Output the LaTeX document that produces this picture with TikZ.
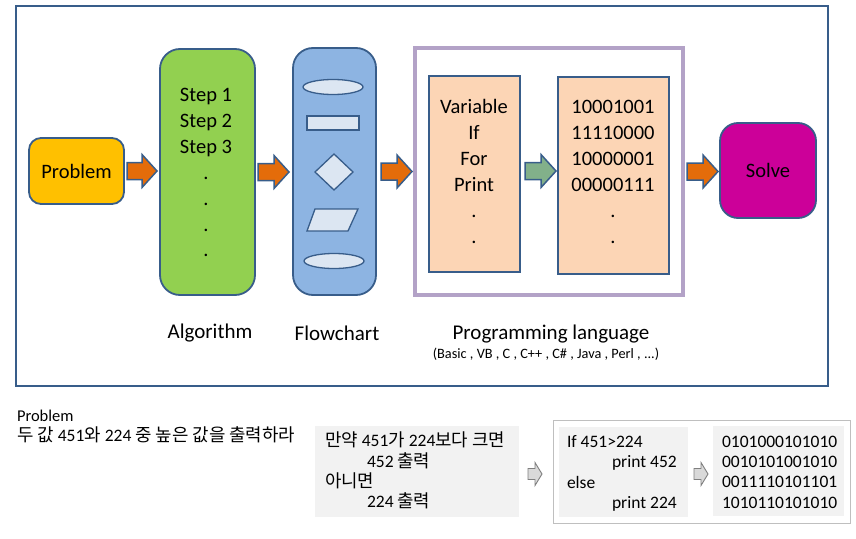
\documentclass[tikz,border=0pt]{standalone}
\usepackage{fontspec}
\setmainfont{Carlito}
\newfontfamily\kr{Noto Sans CJK KR}[Scale=1.02]
\newcommand\K[1]{{\kr #1}}
\usetikzlibrary{calc}
\definecolor{edgeblue}{HTML}{385D8A}
\definecolor{probyellow}{HTML}{FFC000}
\definecolor{arrorange}{HTML}{E46C0A}
\definecolor{alggreen}{HTML}{92D050}
\definecolor{flowblue}{HTML}{8DB4E2}
\definecolor{shapefill}{HTML}{DCE6F2}
\definecolor{purpleframe}{HTML}{B3A2C7}
\definecolor{peach}{HTML}{FCD5B5}
\definecolor{solvemag}{HTML}{CC0099}
\definecolor{arrgreen}{HTML}{82B08A}
\definecolor{panelgray}{HTML}{F2F2F2}
\definecolor{framegray}{HTML}{BFBFBF}
\definecolor{arrgray}{HTML}{D9D9D9}
\definecolor{arredge}{HTML}{7F7F7F}
\newcommand\blockarr[7]{% style, fill, from, to, shaft half, head half, head length
  \draw[#1, fill=#2] let \p1=(#3), \p2=(#4) in
    ({\x1},{\y1+#5}) -- ({\x2-#7},{\y1+#5}) -- ({\x2-#7},{\y1+#6}) --
    ({\x2},{\y1}) -- ({\x2-#7},{\y1-#6}) -- ({\x2-#7},{\y1-#5}) --
    ({\x1},{\y1-#5}) -- cycle;}
\tikzset{
  every node/.style={inner sep=0pt, outer sep=0pt},
  bx/.style={draw=edgeblue, line width=1.8pt},
  rbox/.style={bx, rounded corners=#1},
  barrow/.style={draw=edgeblue, line width=1.5pt, line join=miter},
  garrow/.style={draw=arredge, line width=0.9pt, line join=miter},
  shp/.style={draw=edgeblue, line width=1.3pt, fill=shapefill},
  bigtxt/.style={font=\fontsize{20.5}{24}\selectfont},
  captxt/.style={font=\fontsize{21}{24}\selectfont},
  smalltxt/.style={font=\fontsize{17.5}{20}\selectfont},
}
\begin{document}
\begin{tikzpicture}[x=1pt,y=-1pt]
\useasboundingbox (0,0) rectangle (856,538);
% outer frame
\node[draw=edgeblue, line width=2.5pt, minimum width=812, minimum height=380] (frame) at (422,196) {};
% main boxes
\node[rbox=12pt, fill=probyellow, minimum width=95, minimum height=66, bigtxt] (prob) at (76.5,171) {Problem};
\node[rbox=20pt, fill=alggreen, minimum width=95, minimum height=246] (alg) at (207.5,172) {};
\node[rbox=20pt, fill=flowblue, minimum width=83, minimum height=247] (flow) at (334.5,171.5) {};
\node[draw=purpleframe, line width=3.5pt, minimum width=268, minimum height=247] (lang) at (549,171.5) {};
\node[bx, fill=peach, minimum width=91, minimum height=196] (var) at (474.5,174) {};
\node[bx, fill=peach, minimum width=111, minimum height=197] (bin) at (613.5,175.5) {};
\node[rbox=18pt, fill=solvemag, minimum width=96, minimum height=95, bigtxt] (solve) at (768,170.5) {Solve};
% algorithm text
\foreach \t [count=\i from 0] in {Step 1,Step 2,Step 3,.,.,.,.}
  \node[bigtxt, anchor=base] (alg\i) at (206,{101.5+25.9*\i}) {\t};
% language text
\foreach \t [count=\i from 0] in {Variable,If,For,Print,.,.}
  \node[bigtxt, anchor=base] (var\i) at (474,{113.5+26*\i}) {\t};
\foreach \t [count=\i from 0] in {10001001,11110000,10000001,00000111,.,.}
  \node[bigtxt, anchor=base] (bin\i) at (613,{113.5+26*\i}) {\t};
% flowchart symbols
\draw[shp] (333,87) ellipse [x radius=30, y radius=7.5];
\draw[shp] (307,116) rectangle (359,130);
\draw[shp] (334,154) -- (353,172) -- (334,190) -- (315,172) -- cycle;
\draw[shp] (315,209) -- (358,209) -- (348,231) -- (307,231) -- cycle;
\draw[shp] (334,261) ellipse [x radius=30, y radius=7.5];
% block arrows
\coordinate (a1s) at ($(prob.east)+(3,0)$);  \coordinate (a1e) at ($(alg.west)+(-3,0)$);
\coordinate (a2s) at ($(alg.east)+(3,0)$);   \coordinate (a2e) at ($(flow.west)+(-4,0)$);
\coordinate (a3s) at ($(flow.east)+(5,0)$);  \coordinate (a3e) at ($(lang.west)+(-3,0)$);
\coordinate (a4s) at ($(var.east)+(5,-3)$);  \coordinate (a4e) at ($(bin.west)+(-2,-3)$);
\coordinate (a5s) at ($(lang.east)+(4,0)$);  \coordinate (a5e) at ($(solve.west)+(-2,0)$);
\blockarr{barrow}{arrorange}{a1s}{a1e}{8.5pt}{16.5pt}{15pt}
\blockarr{barrow}{arrorange}{a2s}{a2e}{8.5pt}{16.5pt}{15pt}
\blockarr{barrow}{arrorange}{a3s}{a3e}{8.5pt}{16.5pt}{15pt}
\blockarr{barrow}{arrgreen}{a4s}{a4e}{8.5pt}{16.5pt}{15pt}
\blockarr{barrow}{arrorange}{a5s}{a5e}{8.5pt}{16.5pt}{15pt}
% captions
\node[captxt] (capalg) at (210,333) {Algorithm};
\node[captxt] (capflow) at (337,333) {Flowchart};
\node[captxt] (caplang) at (551,334) {Programming language};
\node[font=\fontsize{14.3}{16}\selectfont] (capsub) at (546,354) {(Basic , VB , C , C++ , C\# , Java , Perl , ...)};
% bottom part
\node[anchor=base west, font=\fontsize{16.5}{19}\selectfont] (ptitle) at (17,421.5) {Problem};
\node[anchor=base west, smalltxt] (pkr) at (17,441) {\K{두 값} 451\K{와} 224 \K{중 높은 값을 출력하라}};
\node[fill=panelgray, minimum width=204, minimum height=91] (pseudo) at (417,471.5) {};
\node[draw=framegray, line width=1pt, minimum width=297, minimum height=103] (codeframe) at (701.5,471.5) {};
\node[fill=panelgray, minimum width=129, minimum height=90] (code) at (623.5,472) {};
\node[fill=panelgray, minimum width=131, minimum height=90] (mach) at (778.5,471) {};
\node[anchor=base west, smalltxt] (ps1) at (325,446) {\K{만약} 451\K{가} 224\K{보다 크면}};
\node[anchor=base west, smalltxt] (ps2) at (367,467) {452 \K{출력}};
\node[anchor=base west, smalltxt] (ps3) at (325,487) {\K{아니면}};
\node[anchor=base west, smalltxt] (ps4) at (367,507) {224 \K{출력}};
\node[anchor=base west, smalltxt] (cd1) at (567,447.5) {If 451>224};
\node[anchor=base west, smalltxt] (cd2) at (612,467.7) {print 452};
\node[anchor=base west, smalltxt] (cd3) at (567,488) {else};
\node[anchor=base west, smalltxt] (cd4) at (612,508) {print 224};
\foreach \t [count=\i from 0] in {0101000101010,0010101001010,0011110101101,1010110101010}
  \node[anchor=base west, smalltxt] (mc\i) at (722,{447.5+20.2*\i}) {\t};
% gray arrows
\coordinate (g1s) at ($(pseudo.east)+(9,2.5)$);  \coordinate (g1e) at ($(codeframe.west)+(-11,2.5)$);
\coordinate (g2s) at ($(code.east)+(6,2)$);      \coordinate (g2e) at ($(mach.west)+(-5,3)$);
\blockarr{garrow}{arrgray}{g1s}{g1e}{5.5pt}{11.5pt}{7pt}
\blockarr{garrow}{arrgray}{g2s}{g2e}{5.5pt}{11.5pt}{7pt}
\end{tikzpicture}
\end{document}
